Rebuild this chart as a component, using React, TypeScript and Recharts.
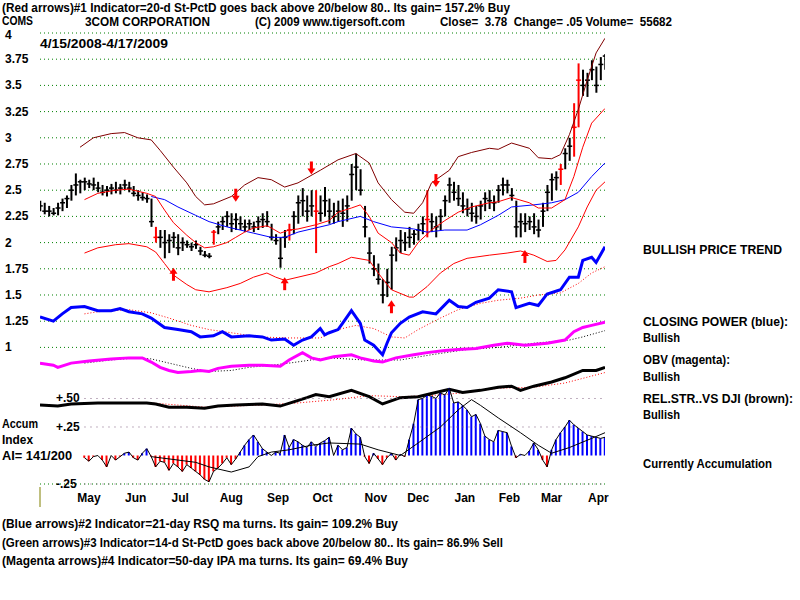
import React from 'react';
import { ComposedChart, Bar, Line, XAxis, YAxis, CartesianGrid, ReferenceLine, ReferenceDot, Cell } from 'recharts';

// daily bars, one every 2 trading days (day = 2 * index), 4/15/2008 - 4/17/2009
const highs = [
  2.40, 2.38, 2.35, 2.33, 2.38, 2.42, 2.45, 2.55, 2.66, 2.60,
  2.62, 2.60, 2.62, 2.58, 2.55, 2.54, 2.56, 2.58, 2.56, 2.60,
  2.58, 2.54, 2.50, 2.48, 2.46, 2.42, 2.15, 2.12, 2.12, 2.08,
  2.10, 2.08, 2.05, 2.02, 2.00, 2.02, 1.96, 1.92, 1.90, 2.12,
  2.20, 2.25, 2.30, 2.28, 2.28, 2.25, 2.22, 2.22, 2.20, 2.25,
  2.28, 2.30, 2.18, 2.08, 2.05, 2.12, 2.18, 2.30, 2.45, 2.52,
  2.45, 2.50, 2.50, 2.45, 2.53, 2.42, 2.38, 2.40, 2.42, 2.45,
  2.75, 2.85, 2.70, 2.35, 2.05, 1.88, 1.80, 1.65, 1.75, 1.96,
  2.05, 2.12, 2.10, 2.15, 2.12, 2.18, 2.25, 2.50, 2.28, 2.25,
  2.32, 2.45, 2.62, 2.58, 2.55, 2.48, 2.42, 2.38, 2.35, 2.40,
  2.48, 2.50, 2.45, 2.55, 2.62, 2.60, 2.52, 2.40, 2.28, 2.28,
  2.25, 2.28, 2.22, 2.38, 2.55, 2.66, 2.68, 2.75, 2.90, 3.00,
  3.33, 3.71, 3.65, 3.62, 3.74, 3.68, 3.77, 3.80,
];
const lows = [
  2.30, 2.27, 2.25, 2.26, 2.26, 2.30, 2.33, 2.40, 2.45, 2.47,
  2.50, 2.52, 2.50, 2.48, 2.45, 2.44, 2.46, 2.47, 2.46, 2.50,
  2.48, 2.44, 2.40, 2.40, 2.38, 2.15, 2.00, 1.95, 1.85, 1.90,
  1.95, 1.88, 1.92, 1.95, 1.92, 1.94, 1.88, 1.86, 1.85, 1.98,
  2.08, 2.12, 2.15, 2.10, 2.12, 2.12, 2.10, 2.12, 2.10, 2.12,
  2.14, 2.15, 2.02, 1.98, 1.76, 1.95, 2.02, 2.08, 2.18, 2.25,
  2.20, 2.25, 1.90, 2.20, 2.25, 2.18, 2.18, 2.20, 2.15, 2.20,
  2.40, 2.50, 2.45, 2.05, 1.80, 1.68, 1.60, 1.42, 1.48, 1.55,
  1.82, 1.90, 1.92, 1.95, 1.98, 2.02, 2.08, 2.05, 2.10, 2.05,
  2.12, 2.25, 2.38, 2.40, 2.35, 2.28, 2.25, 2.20, 2.18, 2.22,
  2.30, 2.32, 2.30, 2.38, 2.45, 2.47, 2.40, 2.05, 2.05, 2.10,
  2.12, 2.08, 2.05, 2.15, 2.30, 2.40, 2.50, 2.55, 2.70, 2.78,
  2.82, 3.10, 3.40, 3.39, 3.55, 3.43, 3.55, 3.65,
];
const closes = [
  2.35, 2.30, 2.30, 2.28, 2.33, 2.38, 2.42, 2.50, 2.55, 2.58,
  2.58, 2.56, 2.55, 2.52, 2.48, 2.50, 2.52, 2.50, 2.52, 2.55,
  2.52, 2.47, 2.45, 2.43, 2.42, 2.20, 2.05, 2.05, 2.00, 2.02,
  2.05, 1.95, 2.00, 1.98, 1.96, 1.98, 1.92, 1.88, 1.87, 2.10,
  2.15, 2.20, 2.25, 2.18, 2.22, 2.18, 2.15, 2.18, 2.15, 2.20,
  2.22, 2.20, 2.05, 2.02, 1.85, 2.05, 2.12, 2.25, 2.38, 2.40,
  2.30, 2.35, 2.30, 2.28, 2.40, 2.30, 2.25, 2.30, 2.28, 2.35,
  2.65, 2.72, 2.50, 2.15, 1.90, 1.75, 1.65, 1.50, 1.62, 1.88,
  1.95, 2.02, 2.00, 2.05, 2.08, 2.12, 2.18, 2.22, 2.20, 2.15,
  2.25, 2.40, 2.55, 2.48, 2.42, 2.35, 2.32, 2.28, 2.25, 2.35,
  2.42, 2.40, 2.38, 2.50, 2.55, 2.55, 2.45, 2.15, 2.20, 2.18,
  2.20, 2.15, 2.12, 2.30, 2.48, 2.60, 2.62, 2.70, 2.85, 2.92,
  3.10, 3.55, 3.50, 3.55, 3.65, 3.50, 3.70, 3.78,
];
const redBarDays = [52, 78, 112, 124, 174, 234, 240, 242];

// overlay lines: [trading day, value]
const upperBand = [
  [18, 2.91], [24, 3.0], [32, 3.04], [38, 3.05], [44, 3.0], [50, 2.98], [54, 2.88], [60, 2.72],
  [66, 2.57], [70, 2.44], [74, 2.36], [78, 2.37], [86, 2.44], [92, 2.55], [98, 2.62], [104, 2.60],
  [110, 2.53], [116, 2.57], [126, 2.69], [134, 2.79], [142, 2.85], [148, 2.76], [152, 2.57], [158, 2.41],
  [164, 2.29], [168, 2.28], [172, 2.38], [176, 2.57], [184, 2.69], [188, 2.82], [194, 2.86], [202, 2.90],
  [206, 2.89], [212, 2.95], [220, 2.90], [224, 2.81], [230, 2.80], [234, 2.84], [238, 3.03], [242, 3.27],
  [246, 3.55], [250, 3.81], [254, 3.95],
];
const ma20 = [
  [20, 2.41], [26, 2.47], [34, 2.50], [40, 2.51], [48, 2.47], [52, 2.44], [56, 2.31], [60, 2.19],
  [66, 2.07], [70, 2.0], [74, 1.95], [78, 1.96], [84, 2.0], [88, 2.05], [92, 2.10], [96, 2.14],
  [102, 2.16], [104, 2.14], [108, 2.09], [112, 2.12], [116, 2.13], [124, 2.17], [130, 2.21], [134, 2.29],
  [140, 2.33], [144, 2.36], [148, 2.25], [152, 2.09], [158, 2.0], [162, 1.90], [166, 1.88], [170, 2.0],
  [176, 2.12], [182, 2.21], [188, 2.29], [194, 2.34], [202, 2.38], [206, 2.39], [212, 2.43], [220, 2.38],
  [224, 2.33], [230, 2.33], [236, 2.41], [240, 2.63], [244, 2.91], [248, 3.14], [254, 3.28],
];
const ma50 = [
  [50, 2.44], [56, 2.41], [62, 2.34], [70, 2.26], [76, 2.20], [84, 2.15], [90, 2.12], [96, 2.09],
  [104, 2.05], [110, 2.05], [116, 2.10], [124, 2.14], [130, 2.17], [134, 2.20], [144, 2.25], [150, 2.20],
  [158, 2.15], [168, 2.13], [174, 2.10], [182, 2.12], [192, 2.12], [198, 2.17], [206, 2.26], [212, 2.34],
  [222, 2.36], [230, 2.38], [236, 2.41], [242, 2.48], [248, 2.63], [254, 2.76],
];
const lowerBand = [
  [20, 1.90], [26, 1.95], [34, 1.98], [40, 1.99], [48, 1.96], [52, 1.91], [56, 1.80], [60, 1.69],
  [66, 1.60], [70, 1.55], [76, 1.53], [84, 1.57], [90, 1.61], [96, 1.67], [102, 1.71], [106, 1.67],
  [110, 1.64], [116, 1.67], [124, 1.71], [130, 1.77], [134, 1.80], [140, 1.86], [148, 1.83], [152, 1.71],
  [158, 1.55], [166, 1.48], [168, 1.48], [174, 1.58], [180, 1.71], [186, 1.80], [192, 1.85], [202, 1.88],
  [210, 1.90], [216, 1.92], [222, 1.88], [228, 1.82], [232, 1.83], [236, 1.93], [242, 2.15], [246, 2.34],
  [250, 2.50], [254, 2.58],
];
const closingPower = [
  [0, 1.29], [6, 1.25], [10, 1.32], [14, 1.38], [20, 1.39], [26, 1.35], [32, 1.35], [36, 1.37],
  [40, 1.34], [46, 1.32], [50, 1.28], [56, 1.19], [62, 1.17], [68, 1.15], [72, 1.10], [78, 1.11],
  [82, 1.15], [86, 1.10], [94, 1.11], [100, 1.10], [104, 1.07], [110, 1.08], [114, 1.02], [118, 1.07],
  [122, 1.10], [126, 1.18], [128, 1.12], [130, 1.14], [134, 1.17], [136, 1.23], [140, 1.35], [144, 1.23],
  [146, 1.07], [150, 1.02], [154, 0.93], [156, 1.04], [158, 1.14], [162, 1.23], [166, 1.29], [172, 1.34],
  [178, 1.32], [184, 1.45], [188, 1.39], [192, 1.38], [196, 1.43], [202, 1.47], [206, 1.55], [212, 1.53],
  [214, 1.38], [220, 1.42], [224, 1.40], [228, 1.51], [234, 1.55], [238, 1.67], [242, 1.67], [244, 1.83],
  [248, 1.86], [250, 1.81], [254, 1.96],
];
const closingPowerMa = [
  [20, 1.32], [26, 1.34], [40, 1.36], [50, 1.33], [58, 1.28], [68, 1.21], [76, 1.17], [86, 1.14],
  [98, 1.10], [112, 1.09], [126, 1.09], [134, 1.17], [142, 1.21], [150, 1.18], [158, 1.10], [164, 1.09],
  [170, 1.17], [180, 1.28], [188, 1.36], [198, 1.42], [206, 1.45], [216, 1.47], [224, 1.50], [234, 1.52],
  [242, 1.61], [248, 1.71], [254, 1.77],
];
const obv = [
  [0, 0.85], [6, 0.83], [8, 0.81], [14, 0.85], [22, 0.87], [32, 0.89], [40, 0.90], [46, 0.90],
  [50, 0.86], [54, 0.81], [58, 0.78], [62, 0.76], [68, 0.77], [72, 0.78], [76, 0.77], [80, 0.80],
  [86, 0.82], [94, 0.83], [100, 0.83], [108, 0.82], [112, 0.88], [118, 0.95], [122, 0.90], [126, 0.88],
  [132, 0.91], [140, 0.93], [144, 0.90], [150, 0.87], [154, 0.86], [160, 0.90], [168, 0.93], [174, 0.95],
  [182, 0.97], [188, 0.98], [196, 0.99], [204, 1.02], [210, 1.04], [218, 1.02], [228, 1.04], [236, 1.07],
  [240, 1.15], [244, 1.19], [248, 1.21], [254, 1.24],
];
const obvMa = [
  [20, 0.85], [32, 0.88], [44, 0.90], [50, 0.89], [58, 0.85], [68, 0.80], [76, 0.77], [86, 0.78],
  [94, 0.81], [104, 0.83], [112, 0.85], [122, 0.88], [130, 0.90], [146, 0.88], [162, 0.88], [176, 0.93],
  [192, 0.98], [206, 1.00], [222, 1.04], [238, 1.07], [244, 1.10], [254, 1.16],
];
const relStrength = [
  [0, 0.45], [8, 0.44], [14, 0.46], [26, 0.47], [38, 0.47], [48, 0.47], [52, 0.46], [58, 0.43],
  [66, 0.43], [74, 0.42], [80, 0.44], [88, 0.45], [100, 0.46], [108, 0.44], [114, 0.48], [120, 0.52],
  [124, 0.55], [130, 0.53], [140, 0.59], [148, 0.53], [154, 0.46], [162, 0.52], [170, 0.53], [176, 0.56],
  [184, 0.60], [190, 0.57], [198, 0.59], [206, 0.62], [212, 0.63], [216, 0.59], [222, 0.63], [230, 0.67],
  [236, 0.71], [244, 0.78], [250, 0.78], [254, 0.81],
];
const relStrengthMa = [
  [20, 0.47], [50, 0.47], [74, 0.43], [100, 0.45], [116, 0.47], [132, 0.50], [148, 0.54], [162, 0.53],
  [176, 0.54], [192, 0.57], [206, 0.61], [222, 0.62], [236, 0.66], [254, 0.76],
];

// accumulation index, one value every 2 days starting at day 20
const accumStart = 20;
const accum = [
  -0.02, -0.05, -0.01, 0.00, -0.04, -0.10, 0.00, -0.04, -0.01, 0.02,
  0.03, -0.02, -0.04, 0.02, 0.06, -0.01, -0.10, -0.05, -0.06, -0.13,
  -0.07, -0.10, -0.14, -0.08, -0.11, -0.14, -0.17, -0.21, -0.23, -0.14,
  -0.11, -0.07, -0.02, -0.08, -0.03, 0.03, 0.09, 0.14, 0.18, 0.12,
  0.06, 0.03, 0.00, 0.03, 0.02, 0.18, 0.07, 0.14, 0.12, 0.09,
  0.07, 0.12, 0.08, 0.11, 0.13, 0.16, 0.00, 0.09, 0.05, 0.07,
  0.24, 0.19, 0.16, -0.01, -0.07, 0.02, -0.03, -0.08, -0.02, 0.02,
  -0.04, 0.01, -0.01, 0.14, 0.28, 0.49, 0.50, 0.53, 0.52, 0.50,
  0.55, 0.53, 0.59, 0.46, 0.47, 0.44, 0.40, 0.34, 0.36, 0.28,
  0.17, 0.14, 0.12, 0.22, 0.21, 0.20, 0.08, -0.02, 0.01, 0.00,
  0.04, 0.11, 0.05, -0.04, -0.10, 0.05, 0.14, 0.20, 0.25, 0.31,
  0.27, 0.24, 0.21, 0.18, 0.17, 0.16, 0.15, 0.16,
];
const accumMa = [
  [50, -0.01], [62, -0.04], [70, -0.06], [76, -0.10], [86, -0.145], [94, -0.10], [98, -0.01], [104, 0.03],
  [112, 0.05], [122, 0.09], [130, 0.11], [144, 0.10], [152, 0.05], [162, 0.0], [170, 0.11], [180, 0.25],
  [188, 0.40], [194, 0.49], [198, 0.44], [206, 0.33], [216, 0.20], [224, 0.09], [230, 0.02], [238, 0.07],
  [248, 0.15], [254, 0.20],
];

// signal arrows: [day, price at arrow tip]
const sellArrows = [[88, 2.39], [122, 2.65], [178, 2.53]];
const buyArrows = [[60, 1.76], [110, 1.67], [158, 1.45], [218, 1.93]];

const monthNames = ['May', 'Jun', 'Jul', 'Aug', 'Sep', 'Oct', 'Nov', 'Dec', 'Jan', 'Feb', 'Mar', 'Apr'];
const monthDays = [22, 43, 63, 86, 107, 127, 151, 170, 191, 211, 230, 251];
const priceTicks = [1, 1.25, 1.5, 1.75, 2, 2.25, 2.5, 2.75, 3, 3.25, 3.5, 3.75, 4];
const accumTicks = [-0.25, 0.25, 0.5];

const FONT = '"Liberation Sans", Arial, sans-serif';

const rows: any[] = highs.map((h, i) => ({
  day: i * 2,
  high: h,
  low: lows[i],
  close: closes[i],
  red: redBarDays.includes(i * 2),
}));
const put = (key: string, pts: number[][]) => pts.forEach(([d, v]) => { rows[d / 2][key] = v; });
put('upper', upperBand);
put('ma20', ma20);
put('ma50', ma50);
put('lower', lowerBand);
put('cp', closingPower);
put('cpMa', closingPowerMa);
put('obv', obv);
put('obvMa', obvMa);
put('rs', relStrength);
put('rsMa', relStrengthMa);

const accRows: any[] = accum.map((v, k) => ({ day: accumStart + k * 2, acc: v }));
accumMa.forEach(([d, v]) => { accRows[(d - accumStart) / 2].accMa = v; });

const OhlcBar = (p: any) => {
  const { x, y, width, height, payload } = p;
  if (x == null || y == null || !payload) return <g />;
  const top = Math.min(y, y + height);
  const h = Math.abs(height);
  const cx = x + width / 2;
  const yc = top + (h * (payload.high - payload.close)) / (payload.high - payload.low);
  const col = payload.red ? '#ff0000' : '#000000';
  return (
    <g>
      <line x1={cx} x2={cx} y1={top} y2={top + h} stroke={col} strokeWidth={2} />
      <line x1={cx - 2.5} x2={cx + 2.5} y1={yc} y2={yc} stroke={col} strokeWidth={1.5} />
    </g>
  );
};

const downArrow = (p: any) => (
  <g>
    <rect x={p.cx - 1.5} y={p.cy - 13} width={3} height={8} fill="#ff0000" />
    <path d={`M${p.cx - 4},${p.cy - 6}L${p.cx + 4},${p.cy - 6}L${p.cx},${p.cy}Z`} fill="#ff0000" />
  </g>
);
const upArrow = (p: any) => (
  <g>
    <rect x={p.cx - 1.5} y={p.cy + 5} width={3} height={8} fill="#ff0000" />
    <path d={`M${p.cx - 4},${p.cy + 6}L${p.cx + 4},${p.cy + 6}L${p.cx},${p.cy}Z`} fill="#ff0000" />
  </g>
);

const PriceTick = (p: any) => {
  const v = p.payload.value;
  // the top label sits just under the ticker symbol
  const dy = v === 4 ? 6 : 4;
  return (
    <text x={5} y={p.y + dy} fontFamily={FONT} fontWeight="bold" fontSize={12} fill="#000" textAnchor="start">
      {String(v)}
    </text>
  );
};
const AccTick = (p: any) => {
  const v = p.payload.value;
  const label = v === 0.5 ? '+.50' : v === 0.25 ? '+.25' : '-.25';
  return (
    <text x={56} y={p.y + 4} fontFamily={FONT} fontWeight="bold" fontSize={12} fill="#000" textAnchor="start">
      {label}
    </text>
  );
};
const MonthTick = (p: any) => {
  const idx = monthDays.indexOf(p.payload.value);
  return (
    <text x={p.x} y={502} fontFamily={FONT} fontWeight="bold" fontSize={12} fill="#000" textAnchor="middle">
      {monthNames[idx]}
    </text>
  );
};

const texts = [
  { x: 2, y: 12, w: 508, t: '(Red arrows)#1 Indicator=20-d St-PctD goes back above 20/below 80.. Its gain= 157.2% Buy' },
  { x: 2, y: 25, w: 31, t: 'COMS' },
  { x: 85, y: 26, w: 125, t: '3COM CORPORATION' },
  { x: 255, y: 26, w: 150, t: '(C) 2009 www.tigersoft.com' },
  { x: 440, y: 26, w: 232, t: 'Close=  3.78  Change= .05 Volume=  55682' },
  { x: 40, y: 48, w: 128, t: '4/15/2008-4/17/2009' },
  { x: 643, y: 254, w: 139, t: 'BULLISH PRICE TREND' },
  { x: 643, y: 326, w: 145, t: 'CLOSING POWER (blue):' },
  { x: 643, y: 342, w: 37, t: 'Bullish' },
  { x: 643, y: 364, w: 87, t: 'OBV (magenta):' },
  { x: 643, y: 381, w: 37, t: 'Bullish' },
  { x: 643, y: 403, w: 150, t: 'REL.STR..VS DJI (brown):' },
  { x: 643, y: 419, w: 37, t: 'Bullish' },
  { x: 643, y: 468, w: 129, t: 'Currently Accumulation' },
  { x: 2, y: 428, w: 36, t: 'Accum' },
  { x: 2, y: 444, w: 31, t: 'Index' },
  { x: 2, y: 460, w: 70, t: 'AI= 141/200' },
  { x: 2, y: 528, w: 396, t: '(Blue arrows)#2 Indicator=21-day RSQ ma turns. Its gain= 109.2% Buy' },
  { x: 2, y: 547, w: 501, t: '(Green arrows)#3 Indicator=14-d St-PctD goes back above 20/below 80.. Its gain= 86.9% Sell' },
  { x: 2, y: 565, w: 406, t: '(Magenta arrows)#4 Indicator=50-day IPA ma turns. Its gain= 69.4% Buy' },
];

const CHART_MARGIN_TOP = 33;
const CHART_MARGIN_RIGHT = 195;

export default function App() {
  return (
    <div style={{ position: 'absolute', left: 0, top: 0, width: 800, height: 600, background: '#fff', overflow: 'hidden' }}>
      <div style={{ position: 'absolute', left: 0, top: 0 }}>
        <ComposedChart width={800} height={600} data={rows}
          margin={{ top: CHART_MARGIN_TOP, right: CHART_MARGIN_RIGHT, bottom: 86, left: 0 }}>
          <CartesianGrid vertical={false} stroke="#008000" strokeDasharray="1 3" />
          <XAxis dataKey="day" type="number" domain={[0, 254]} ticks={monthDays} interval={0}
            tick={MonthTick} axisLine={false} tickLine={false} height={30} allowDataOverflow />
          <YAxis domain={[-0.3035, 4]} ticks={priceTicks} tick={PriceTick} axisLine={false}
            tickLine={false} width={40} allowDataOverflow />
          <Line dataKey="upper" stroke="#800000" strokeWidth={1} dot={false} connectNulls isAnimationActive={false} />
          <Line dataKey="lower" stroke="#ff0000" strokeWidth={1} dot={false} connectNulls isAnimationActive={false} />
          <Line dataKey="ma50" stroke="#0000ff" strokeWidth={1} dot={false} connectNulls isAnimationActive={false} />
          <Line dataKey="ma20" stroke="#ff0000" strokeWidth={1} dot={false} connectNulls isAnimationActive={false} />
          <Line dataKey="cpMa" stroke="#ff0000" strokeWidth={1} strokeDasharray="1 2" dot={false} connectNulls isAnimationActive={false} />
          <Line dataKey="cp" stroke="#0000ff" strokeWidth={3} dot={false} connectNulls isAnimationActive={false} />
          <Line dataKey="obvMa" stroke="#000000" strokeWidth={1} strokeDasharray="1 2" dot={false} connectNulls isAnimationActive={false} />
          <Line dataKey="obv" stroke="#ff00ff" strokeWidth={3} dot={false} connectNulls isAnimationActive={false} />
          <Line dataKey="rsMa" stroke="#ff0000" strokeWidth={1} strokeDasharray="1 2" dot={false} connectNulls isAnimationActive={false} />
          <Line dataKey="rs" stroke="#000000" strokeWidth={3} dot={false} connectNulls isAnimationActive={false} />
          <Bar dataKey={(d: any) => [d.low, d.high]} barSize={3} shape={OhlcBar} isAnimationActive={false} />
          {sellArrows.map(([d, v]) => (
            <ReferenceDot key={`s${d}`} x={d} y={v} r={4} shape={downArrow} />
          ))}
          {buyArrows.map(([d, v]) => (
            <ReferenceDot key={`b${d}`} x={d} y={v} r={4} shape={upArrow} />
          ))}
        </ComposedChart>
      </div>
      <div style={{ position: 'absolute', left: 0, top: 0 }}>
        <ComposedChart width={800} height={600} data={accRows}
          margin={{ top: CHART_MARGIN_TOP, right: CHART_MARGIN_RIGHT, bottom: 116, left: 0 }}>
          <XAxis dataKey="day" type="number" domain={[0, 254]} hide allowDataOverflow />
          <YAxis domain={[-0.25, 3.706]} ticks={accumTicks} tick={AccTick} axisLine={false}
            tickLine={false} width={40} allowDataOverflow />
          {accumTicks.map((v) => (
            <ReferenceLine key={v} segment={[{ x: accumStart, y: v }, { x: 254, y: v }]}
              stroke="#806080" strokeDasharray="1 5" />
          ))}
          <Bar dataKey="acc" barSize={2} isAnimationActive={false}>
            {accRows.map((r, i) => (
              <Cell key={i} fill={r.acc >= 0 ? '#0000ff' : '#ff0000'} />
            ))}
          </Bar>
          <Line dataKey="acc" stroke="#000000" strokeWidth={1} dot={false} isAnimationActive={false} />
          <Line dataKey="accMa" stroke="#000000" strokeWidth={1} dot={false} connectNulls isAnimationActive={false} />
        </ComposedChart>
      </div>
      <svg width={800} height={600} style={{ position: 'absolute', left: 0, top: 0, pointerEvents: 'none' }}>
        {texts.map((t, i) => (
          <text key={i} x={t.x} y={t.y} textLength={t.w} lengthAdjust="spacingAndGlyphs"
            fontFamily={FONT} fontWeight="bold" fontSize={12} fill="#000" style={{ whiteSpace: 'pre' }}>
            {t.t}
          </text>
        ))}
        <line x1={40} x2={40} y1={487} y2={507} stroke="#808000" strokeWidth={1} />
      </svg>
    </div>
  );
}
